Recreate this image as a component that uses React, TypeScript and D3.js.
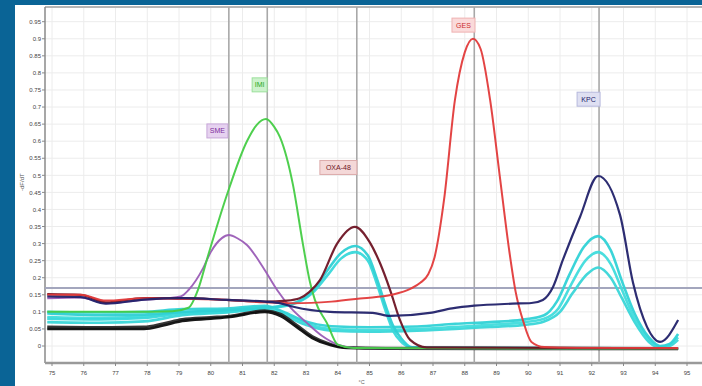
import React from "react";
import * as d3 from "d3";

type Pt = [number, number];

const xTicks = d3.range(75, 96, 1);
const yTicks = d3.range(0, 0.951, 0.05).map((v) => +v.toFixed(2));

const gesCurve: Pt[] = [[74.85,0.15],[75.9,0.15],[76.7,0.133],[77.9,0.14],[79.1,0.138],[80.5,0.135],[81.7,0.128],[82.6,0.125],[83.8,0.13],[84.8,0.14],[85.7,0.15],[86.3,0.168],[86.6,0.185],[86.85,0.21],[87.05,0.26],[87.35,0.43],[87.69,0.72],[88.0,0.86],[88.26,0.9],[88.5,0.87],[88.8,0.72],[89.1,0.5],[89.4,0.28],[89.6,0.16],[89.85,0.07],[90.1,0.012],[90.5,-0.003],[91.5,-0.005],[94.72,-0.006]];
const smeCurve: Pt[] = [[74.85,0.14],[75.9,0.142],[76.7,0.125],[77.9,0.135],[78.6,0.14],[79.05,0.145],[79.3,0.164],[79.76,0.228],[80.0,0.275],[80.35,0.316],[80.57,0.325],[80.85,0.315],[81.14,0.296],[81.65,0.23],[82.09,0.164],[82.5,0.114],[83.0,0.07],[83.5,0.03],[84.0,0.004],[84.5,-0.005],[85.5,-0.007],[94.72,-0.008]];
const imiCurve: Pt[] = [[74.85,0.1],[76.0,0.1],[77.5,0.1],[78.8,0.102],[79.3,0.112],[79.6,0.165],[79.9,0.26],[80.5,0.44],[81.14,0.6],[81.45,0.648],[81.74,0.665],[82.0,0.642],[82.18,0.612],[82.59,0.472],[82.9,0.3],[83.13,0.185],[83.28,0.135],[83.66,0.067],[84.0,0.004],[84.5,-0.006],[94.72,-0.008]];
const oxaCurve: Pt[] = [[74.85,0.152],[75.9,0.15],[76.7,0.128],[77.9,0.14],[79.1,0.14],[80.5,0.135],[81.7,0.13],[82.4,0.133],[82.8,0.14],[83.1,0.158],[83.44,0.193],[83.98,0.3],[84.54,0.349],[85.0,0.305],[85.33,0.243],[85.65,0.164],[85.96,0.076],[86.28,0.018],[86.8,-0.004],[94.72,-0.007]];
const kpcCurve: Pt[] = [[74.85,0.145],[75.9,0.143],[76.7,0.124],[77.9,0.136],[79.1,0.14],[80.5,0.135],[81.7,0.13],[82.2,0.125],[82.6,0.115],[83.76,0.1],[85.1,0.097],[85.65,0.088],[86.9,0.097],[87.6,0.11],[88.3,0.118],[89.5,0.124],[90.1,0.126],[90.46,0.135],[90.78,0.173],[91.09,0.252],[91.63,0.378],[92.2,0.498],[92.89,0.384],[93.3,0.185],[93.74,0.056],[94.15,0.012],[94.72,0.076]];
const cyanOxaA: Pt[] = [[74.85,0.095],[76.5,0.09],[77.9,0.092],[79.1,0.1],[80.5,0.105],[81.7,0.112],[82.5,0.122],[83.2,0.16],[83.7,0.225],[84.1,0.272],[84.55,0.293],[84.95,0.265],[85.24,0.195],[85.5,0.12],[85.74,0.06],[86.0,0.022],[86.34,-0.004],[94.72,-0.007]];
const cyanOxaB: Pt[] = [[74.85,0.08],[76.5,0.078],[77.9,0.082],[79.1,0.095],[80.5,0.1],[81.7,0.11],[82.5,0.12],[83.2,0.155],[83.7,0.21],[84.1,0.256],[84.55,0.275],[84.95,0.25],[85.24,0.18],[85.5,0.105],[85.74,0.045],[86.0,0.012],[86.34,-0.005],[94.72,-0.007]];
const cyanKpcA: Pt[] = [[74.85,0.1],[76.5,0.098],[77.9,0.1],[79.1,0.108],[80.5,0.11],[81.7,0.118],[82.3,0.1],[82.9,0.075],[83.8,0.058],[85.0,0.055],[86.5,0.057],[87.7,0.065],[88.8,0.07],[89.9,0.078],[90.5,0.09],[90.9,0.13],[91.3,0.21],[91.75,0.29],[92.2,0.322],[92.6,0.28],[92.95,0.19],[93.35,0.095],[93.8,0.025],[94.15,0.0],[94.45,0.006],[94.72,0.035]];
const cyanKpcB: Pt[] = [[74.85,0.085],[76.5,0.082],[77.9,0.086],[79.1,0.1],[80.5,0.104],[81.7,0.114],[82.3,0.096],[82.9,0.07],[83.8,0.05],[85.0,0.047],[86.5,0.05],[87.7,0.056],[88.8,0.062],[89.9,0.07],[90.5,0.08],[90.95,0.11],[91.35,0.18],[91.8,0.25],[92.2,0.275],[92.6,0.24],[92.95,0.165],[93.35,0.08],[93.8,0.018],[94.15,-0.002],[94.45,0.004],[94.72,0.025]];
const cyanKpcC: Pt[] = [[74.85,0.07],[76.5,0.068],[77.9,0.072],[79.1,0.09],[80.5,0.098],[81.7,0.108],[82.3,0.09],[82.9,0.065],[83.8,0.045],[85.0,0.042],[86.5,0.045],[87.7,0.05],[88.8,0.056],[89.9,0.062],[90.5,0.072],[91.0,0.1],[91.4,0.155],[91.85,0.21],[92.2,0.23],[92.6,0.2],[92.95,0.14],[93.35,0.07],[93.8,0.012],[94.15,-0.004],[94.45,0.0],[94.72,0.018]];
const blackA: Pt[] = [[74.85,0.05],[76.5,0.05],[77.9,0.05],[78.5,0.06],[79.1,0.073],[80.0,0.08],[80.6,0.085],[81.7,0.1],[82.2,0.088],[82.7,0.056],[83.2,0.023],[83.76,0.003],[84.3,-0.006],[85.5,-0.008],[94.72,-0.009]];
const blackB: Pt[] = [[74.85,0.056],[76.5,0.055],[77.9,0.056],[78.5,0.066],[79.1,0.078],[80.0,0.084],[80.6,0.088],[81.7,0.104],[82.2,0.094],[82.7,0.062],[83.2,0.028],[83.76,0.006],[84.3,-0.004],[85.5,-0.006],[94.72,-0.007]];

const seriesNames = ["cyanKpcC","cyanKpcB","cyanKpcA","cyanOxaB","cyanOxaA","blackB","blackA","sme","imi","oxa","ges","kpc"];
const seriesData: Pt[][] = [cyanKpcC,cyanKpcB,cyanKpcA,cyanOxaB,cyanOxaA,blackB,blackA,smeCurve,imiCurve,oxaCurve,gesCurve,kpcCurve];
const seriesColors = ["#3ad6d8","#40dcdc","#30d2d6","#38d8da","#2ed0d4","#2a2a2a","#0d0d0d","#9a5cb6","#44cc44","#6e1424","#e23a3a","#22226a"];
const seriesWidths = [2.6,2.6,2.6,2.6,2.6,2.6,2.6,1.9,2,2.2,2,2.2];

const markerTemps = [80.57, 81.78, 84.6, 88.3, 92.23];
const thresholdValue = 0.17;

const labelTexts = ["SME", "IMI", "OXA-48", "GES", "KPC"];
const labelTemps = [80.21, 81.54, 84.02, 87.96, 91.9];
const labelValues = [0.63, 0.765, 0.523, 0.94, 0.723];
const labelWidths = [21, 15, 37, 23, 23];
const labelText = ["#7e2f9c", "#22a822", "#6e1424", "#cc2a2a", "#22226a"];
const labelFill = ["#e6d2f0", "#ccf2cc", "#f4d8d8", "#fadada", "#dfe0f2"];
const labelStroke = ["#c7a6d8", "#9be09b", "#dcaaaa", "#efb2b2", "#b6b8dc"];

export default function App() {
  const W = 702, H = 386;
  const left = 45, right = 702, top = 7, bottom = 363;
  const x = d3.scaleLinear().domain([75, 95]).range([52, 687]);
  const y = d3.scaleLinear().domain([0, 0.95]).range([346, 21.7]);
  const line = d3.line<Pt>().x((d) => x(d[0])).y((d) => y(d[1])).curve(d3.curveMonotoneX);
  const font = "'Liberation Sans', Arial, sans-serif";

  return (
    <div style={{ position: "fixed", left: 0, top: 0 }}>
      <svg width={W} height={H} style={{ display: "block" }}>
        <defs>
          <clipPath id="plot">
            <rect x={left} y={top} width={right - left} height={bottom - top} />
          </clipPath>
        </defs>
        <rect x={0} y={0} width={W} height={H} fill="#0a6496" />
        <rect x={15} y={5} width={W - 15} height={H - 5} fill="#ffffff" />
        {xTicks.map((t) => (
          <line key={"gx" + t} x1={x(t)} x2={x(t)} y1={top} y2={bottom} stroke="#ececec" strokeWidth={1} />
        ))}
        {yTicks.map((t) => (
          <line key={"gy" + t} x1={left} x2={right} y1={y(t)} y2={y(t)} stroke="#ececec" strokeWidth={1} />
        ))}
        <line x1={left} x2={right} y1={top} y2={top} stroke="#b5b5b5" strokeWidth={2} />
        <line x1={left} x2={left} y1={top} y2={bottom} stroke="#8a8a8a" strokeWidth={1.5} />
        <line x1={left} x2={right} y1={bottom} y2={bottom} stroke="#9a9a9a" strokeWidth={2.5} />
        {markerTemps.map((t, i) => (
          <line key={"m" + i} x1={x(t)} x2={x(t)} y1={top} y2={bottom} stroke="#a8a8a8" strokeWidth={1.6} />
        ))}
        <line x1={left} x2={right} y1={y(thresholdValue)} y2={y(thresholdValue)} stroke="#a3a6bd" strokeWidth={2} />
        <g clipPath="url(#plot)">
          {seriesData.map((d, i) => (
            <path key={seriesNames[i]} d={line(d) || ""} fill="none" stroke={seriesColors[i]} strokeWidth={seriesWidths[i]} strokeOpacity={0.95} strokeLinejoin="round" />
          ))}
        </g>
        {yTicks.map((t) => (
          <g key={"ty" + t}>
            <line x1={left - 3} x2={left} y1={y(t)} y2={y(t)} stroke="#888" />
            <text x={left - 4} y={y(t) + 2.2} fontSize={6} fontFamily={font} fill="#444" textAnchor="end">
              {String(t)}
            </text>
          </g>
        ))}
        {xTicks.map((t) => (
          <g key={"tx" + t}>
            <line x1={x(t)} x2={x(t)} y1={bottom} y2={bottom + 3} stroke="#888" />
            <text x={x(t)} y={bottom + 12} fontSize={6} fontFamily={font} fill="#444" textAnchor="middle">
              {String(t)}
            </text>
          </g>
        ))}
        <text x={x(84.75)} y={384} fontSize={5.5} fontFamily={font} fill="#666" textAnchor="middle">°C</text>
        <text transform={`translate(24,${y(0.48)}) rotate(-90)`} fontSize={6} fontFamily={font} fill="#555" textAnchor="middle">-dF/dT</text>
        {labelTexts.map((s, i) => {
          const cx = x(labelTemps[i]);
          const cy = y(labelValues[i]);
          const w = labelWidths[i];
          return (
            <g key={"l" + s}>
              <rect x={cx - w / 2} y={cy - 7} width={w} height={14} fill={labelFill[i]} stroke={labelStroke[i]} strokeWidth={1} />
              <text x={cx} y={cy + 2.5} fontSize={7} fontFamily={font} fill={labelText[i]} textAnchor="middle">{s}</text>
            </g>
          );
        })}
      </svg>
    </div>
  );
}
